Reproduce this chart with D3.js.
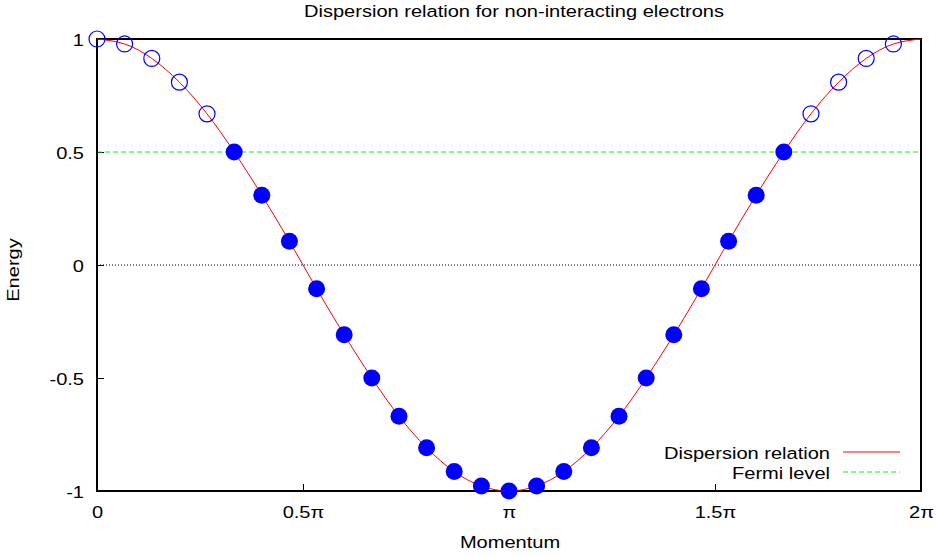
<!DOCTYPE html>
<html><head><meta charset="utf-8">
<script src="https://cdn.jsdelivr.net/npm/d3@7"></script>
<style>
html,body{margin:0;padding:0;background:#fff;}
text{font-family:"Liberation Sans",Arial,sans-serif;fill:#000;}
</style></head>
<body><svg id="c" width="937" height="556"></svg>
<script>
// Momentum in units of pi, energy
const momentum = [0,0.067,0.133,0.2,0.267,0.333,0.4,0.467,0.533,0.6,0.667,0.733,0.8,0.867,0.933,1,1.067,1.133,1.2,1.267,1.333,1.4,1.467,1.533,1.6,1.667,1.733,1.8,1.867,1.933];
const energy = [1,0.978,0.914,0.809,0.669,0.5,0.309,0.105,-0.105,-0.309,-0.5,-0.669,-0.809,-0.914,-0.978,-1,-0.978,-0.914,-0.809,-0.669,-0.5,-0.309,-0.105,0.105,0.309,0.5,0.669,0.809,0.914,0.978];
const curveEnd = {momentum:2, energy:1};
const fermiLevel = 0.5;
const xTicks = [0,0.5,1,1.5,2];
const xTickLabels = ["0","0.5\u03c0","\u03c0","1.5\u03c0","2\u03c0"];
const yTicks = [-1,-0.5,0,0.5,1];
const yTickLabels = ["-1","-0.5","0","0.5","1"];
const legendLabels = ["Dispersion relation","Fermi level"];

const FS = 17, SX = 1.18;
const svg = d3.select("#c");
const L=97, R=921, T=39, B=491;
const x = d3.scaleLinear().domain([0,2]).range([L,R]);
const y = d3.scaleLinear().domain([-1,1]).range([B,T]);

function label(tx, ty, str, anchor, rot){
  return svg.append("text")
    .attr("transform", `translate(${tx},${ty})` + (rot?` rotate(${rot})`:"") + ` scale(${SX},1)`)
    .attr("text-anchor", anchor).attr("font-size", FS).text(str);
}

// zero line (dotted)
svg.append("line").attr("x1",x(0)).attr("x2",x(2)).attr("y1",y(0)).attr("y2",y(0))
  .attr("stroke","#000").attr("stroke-width",1).attr("stroke-dasharray","1,2");

// axes with inward ticks
const xAxis = d3.axisBottom(x).tickValues(xTicks).tickFormat((d,i)=>xTickLabels[i]).tickSize(-7);
const gx = svg.append("g").attr("transform",`translate(0,${B})`).call(xAxis);
const yAxis = d3.axisLeft(y).tickValues(yTicks).tickFormat((d,i)=>yTickLabels[i]).tickSize(-7);
const gy = svg.append("g").attr("transform",`translate(${L},0)`).call(yAxis);
[gx,gy].forEach(g=>{
  g.select(".domain").remove();
  g.attr("font-size",null).attr("font-family",null);
  g.selectAll("line").attr("stroke","#000").attr("stroke-width",1);
  g.selectAll("text").attr("font-size",FS).attr("fill","#000").attr("x",0).attr("y",0).attr("dy",null);
});
gx.selectAll(".tick").filter(d=>d===0||d===2).select("line").remove();
gy.selectAll(".tick").filter(d=>d===1||d===-1).select("line").remove();
gx.selectAll("text").attr("transform",`translate(0,27) scale(${SX},1)`);
gy.selectAll("text").attr("transform",`translate(-13,6) scale(${SX},1)`);

// Fermi level dashed
svg.append("line").attr("x1",x(0)).attr("x2",x(2)).attr("y1",y(fermiLevel)).attr("y2",y(fermiLevel))
  .attr("stroke","#00ff00").attr("stroke-width",1).attr("stroke-dasharray","5,3");

// frame
svg.append("rect").attr("x",L).attr("y",T).attr("width",R-L).attr("height",B-T)
  .attr("fill","none").attr("stroke","#000").attr("stroke-width",2);

// dispersion curve
const pts = momentum.map((m,i)=>({momentum:m, energy:energy[i]})).concat([curveEnd]);
const line = d3.line().x(d=>x(d.momentum)).y(d=>y(d.energy)).curve(d3.curveNatural);
svg.append("path").datum(pts).attr("d",line).attr("fill","none").attr("stroke","#ff0000").attr("stroke-width",1);

// points
const occ = d=>d.energy<=fermiLevel+1e-9;
svg.append("g").selectAll("circle").data(momentum.map((m,i)=>({momentum:m, energy:energy[i]})))
  .join("circle").attr("cx",d=>x(d.momentum)).attr("cy",d=>y(d.energy)).attr("r",d=>occ(d)?8.5:8)
  .attr("fill",d=>occ(d)?"#0000ff":"none")
  .attr("stroke",d=>occ(d)?"none":"#0000ff").attr("stroke-width",1.2);

// title & labels
label(514, 17, "Dispersion relation for non-interacting electrons", "middle");
label(510, 548, "Momentum", "middle");
label(19, 270, "Energy", "middle", -90);

// legend
const legColors = ["#ff0000","#00ff00"], legDash=[null,"5,3"];
legendLabels.forEach((t,i)=>{
  const ly = 452 + i*20;
  label(830, ly+7, t, "end");
  svg.append("line").attr("x1",843).attr("x2",900).attr("y1",ly).attr("y2",ly)
    .attr("stroke",legColors[i]).attr("stroke-width",1).attr("stroke-dasharray",legDash[i]);
});
</script></body></html>
